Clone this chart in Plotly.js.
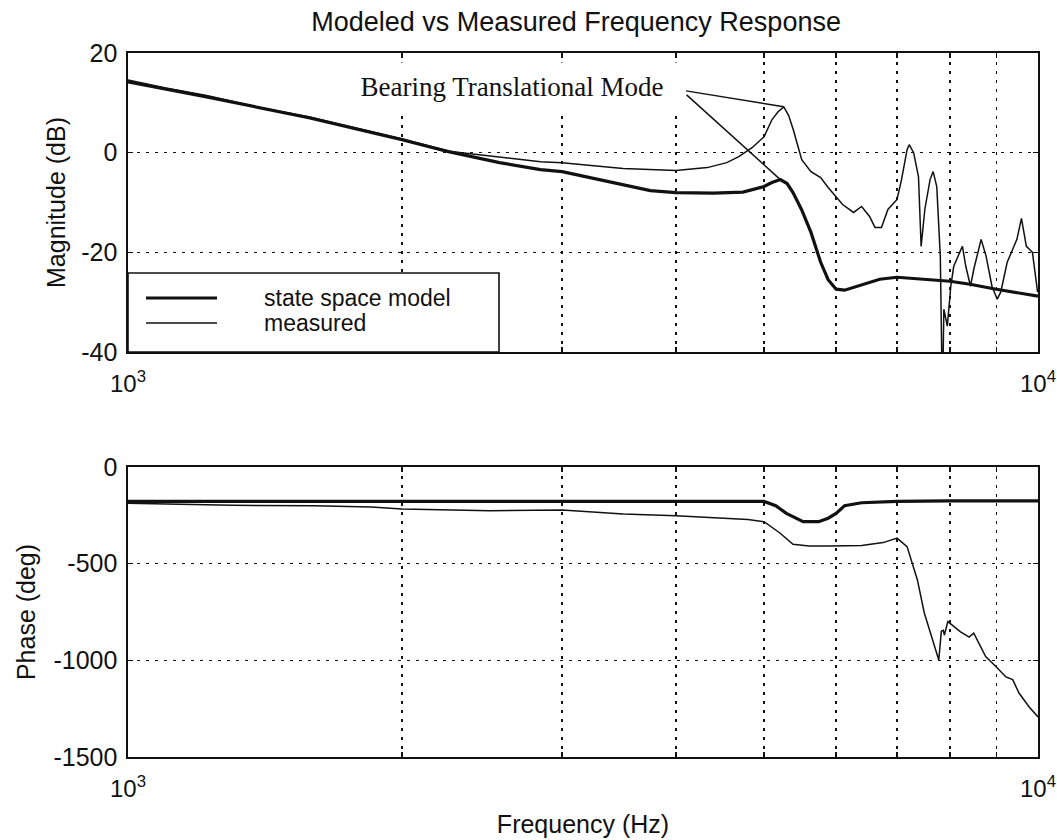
<!DOCTYPE html>
<html>
<head>
<meta charset="utf-8">
<script src="https://cdn.plot.ly/plotly-3.0.1.min.js"></script>
<style>html,body{margin:0;padding:0;background:#fff;}#chart{width:1057px;height:840px;}</style>
</head>
<body>
<div id="chart"></div>
<script>
// ---- data ----
const freqModelMag = [1000,1220,1580,2000,2250,2560,2840,3000,3750,4000,4400,4740,5000,5100,5210,5300,5380,5500,5630,5770,5880,6000,6130,6270,6700,7000,7600,8000,8420,9000,10000];
const magModel     = [14.2,11.2,7.0,2.6,0.2,-2.0,-3.4,-3.8,-7.6,-8.0,-8.1,-7.9,-6.8,-6.0,-5.4,-6.2,-8.0,-11.5,-16.0,-22.0,-25.5,-27.4,-27.6,-27.0,-25.4,-25.0,-25.4,-25.8,-26.4,-27.4,-28.8];

const freqMeasMag = [1000,1100,1220,1400,1580,1800,2000,2250,2560,2840,3000,3500,4000,4330,4550,4690,4850,5000,5100,5180,5256,5320,5384,5440,5500,5630,5770,5880,6000,6100,6270,6400,6530,6620,6730,6840,7000,7080,7180,7220,7300,7390,7440,7510,7610,7670,7740,7810,7845,7860,7880,7950,8020,8080,8230,8260,8330,8430,8500,8660,8770,8900,9020,9100,9250,9480,9590,9710,9860,9990];
const magMeas     = [14.6,13.0,11.5,9.0,7.2,4.8,2.8,0.3,-0.8,-1.8,-2.0,-3.2,-3.6,-3.0,-2.0,-0.8,1.0,3.2,6.6,8.2,9.2,7.5,4.6,1.5,-1.4,-3.8,-5.0,-7.0,-8.8,-10.4,-12.0,-10.8,-12.8,-15.0,-15.0,-11.4,-9.4,-5.4,0.6,1.6,0.0,-4.8,-18.8,-11.4,-5.4,-3.8,-6.8,-20.8,-45,-45,-31.4,-34.8,-26.8,-22.8,-19.4,-18.8,-22.8,-26.8,-23.4,-17.4,-20.8,-26.8,-29.4,-28.0,-22.0,-17.4,-13.2,-18.8,-20.0,-28.0];

const freqModelPh = [1000,2000,3000,4000,5000,5150,5290,5520,5740,5880,6000,6130,6400,7000,8000,10000];
const phaseModel  = [-178,-178,-178,-178,-178,-200,-240,-283,-283,-265,-240,-200,-185,-178,-175,-175];

const freqMeasPh = [1000,1300,1600,1850,2000,2500,3000,3500,4000,4500,4800,5000,5200,5380,5600,5900,6400,6760,7000,7180,7370,7500,7660,7780,7830,7870,7890,7960,8220,8400,8500,8760,9000,9220,9380,9530,9780,10000];
const phaseMeas  = [-187,-198,-200,-207,-217,-226,-222,-243,-252,-264,-272,-283,-340,-400,-408,-408,-406,-391,-368,-412,-584,-755,-895,-998,-850,-845,-870,-800,-853,-880,-860,-981,-1034,-1086,-1100,-1169,-1241,-1293];

const freqDecades = [1000,10000];
const freqDecadeText = ['10<sup>3</sup>','10<sup>4</sup>'];
const freqMinor = [2000,3000,4000,5000,6000,7000,8000,9000];
const magTicks = [-40,-20,0,20];
const magTickText = ['-40','-20','0','20'];
const phaseTicks = [-1500,-1000,-500,0];
const phaseTickText = ['-1500','-1000','-500','0'];

const seriesNames = ['state space model','measured'];
const titleText = 'Modeled vs Measured Frequency Response';
const annotText = 'Bearing Translational Mode';
const annotAt = [2642, 13.2];
const pointerFrom = [[4104,12.4],[4110,11.6]];

// ---- chart ----
const FONT = 'Liberation Sans, Arial, sans-serif';
const INK = '#111';
const thick = {color: INK, width: 3.2};
const thin = {color: INK, width: 1.5};

const traces = [
  {x: freqModelMag, y: magModel, xaxis:'x', yaxis:'y', mode:'lines', line: thick, name: seriesNames[0], showlegend:false},
  {x: freqMeasMag, y: magMeas, xaxis:'x', yaxis:'y', mode:'lines', line: thin, name: seriesNames[1], showlegend:false},
  {x: freqModelPh, y: phaseModel, xaxis:'x2', yaxis:'y2', mode:'lines', line: thick, name: seriesNames[0], showlegend:false},
  {x: freqMeasPh, y: phaseMeas, xaxis:'x2', yaxis:'y2', mode:'lines', line: thin, name: seriesNames[1], showlegend:false}
];

function peakIdx(f, v, lo, hi){ let b=-1; for(let i=0;i<f.length;i++){ if(f[i]>=lo&&f[i]<=hi&&(b<0||v[i]>v[b])) b=i;} return b; }
const iMeas = peakIdx(freqMeasMag, magMeas, 5000, 5600);
const iMod = peakIdx(freqModelMag, magModel, 5000, 5600);

const DASH = '3px,6px';
const gridCommon = {showgrid:true, gridcolor: INK, gridwidth: 1.6, griddash: DASH, zeroline:false,
  showline:true, linecolor: INK, linewidth: 1.6, mirror:'ticks', ticks:'inside', ticklen:5, tickwidth:1.4, tickcolor: INK};
const minorX = {tickmode:'array', tickvals: freqMinor, showgrid:true, gridcolor: INK, gridwidth:1.6, griddash: DASH, ticks:'inside', ticklen:5, tickwidth:1.4, tickcolor: INK};

const tickFont = {family: FONT, size: 25, color: INK};
const xTickFont = {family: FONT, size: 24, color: INK};
const axTitleFont = {family: FONT, size: 25, color: INK};

const layout = {
  width: 1057, height: 840,
  margin: {l:128, r:19, t:53, b:83},
  paper_bgcolor:'#fff', plot_bgcolor:'#fff',
  showlegend:false,
  title: {text: titleText, font:{family: FONT, size: 27, color: INK}, x: 0.545, xref:'container', xanchor:'center', y: 1-22/840, yref:'container', yanchor:'middle'},
  xaxis: Object.assign({}, gridCommon, {type:'log', range:[3,4], domain:[0,1], anchor:'y', tickmode:'array', tickvals: freqDecades, ticktext: freqDecadeText, tickfont: xTickFont, ticklabelstandoff: 10, ticklabeloverflow:'allow', minor: minorX}),
  yaxis: Object.assign({}, gridCommon, {range:[-40,20], domain:[(757-352)/704, 1], anchor:'x', tickmode:'array', tickvals: magTicks, ticktext: magTickText, tickfont: tickFont, ticklabelstandoff: 4,
    title:{text:'Magnitude (dB)', font: axTitleFont, standoff: 8}}),
  xaxis2: Object.assign({}, gridCommon, {type:'log', range:[3,4], domain:[0,1], anchor:'y2', tickmode:'array', tickvals: freqDecades, ticktext: freqDecadeText, tickfont: xTickFont, ticklabelstandoff: 10, ticklabeloverflow:'allow', minor: minorX,
    title:{text:'Frequency (Hz)', font: axTitleFont, standoff: 14}}),
  yaxis2: Object.assign({}, gridCommon, {range:[-1500,0], domain:[0,(757-467)/704], anchor:'x2', tickmode:'array', tickvals: phaseTicks, ticktext: phaseTickText, tickfont: tickFont, ticklabelstandoff: 4,
    title:{text:'Phase (deg)', font: axTitleFont, standoff: 10}}),
  annotations: [
    {xref:'x', yref:'y', x: Math.log10(annotAt[0]), y: annotAt[1], text: annotText, showarrow:false, xanchor:'center', yanchor:'middle',
     font:{family:'Liberation Serif, Times New Roman, serif', size: 27, color: INK}, bgcolor:'#fff', width: 322, borderpad: 9},
    {xref:'x domain', yref:'y domain', x: 0.147, y: 0.1806, text: seriesNames[0], showarrow:false, xanchor:'left', yanchor:'middle', font:{family: FONT, size: 23, color: INK}},
    {xref:'x domain', yref:'y domain', x: 0.147, y: 0.097, text: seriesNames[1], showarrow:false, xanchor:'left', yanchor:'middle', font:{family: FONT, size: 23, color: INK}}
  ],
  shapes: [
    {type:'line', xref:'x', yref:'y', x0: pointerFrom[0][0], y0: pointerFrom[0][1], x1: freqMeasMag[iMeas], y1: magMeas[iMeas], line:{color: INK, width:1.5}},
    {type:'line', xref:'x', yref:'y', x0: pointerFrom[1][0], y0: pointerFrom[1][1], x1: freqModelMag[iMod], y1: magModel[iMod], line:{color: INK, width:1.5}},
    {type:'rect', xref:'x domain', yref:'y domain', x0: 0, x1: 0.4077, y0: 0, y1: 0.264, fillcolor:'#fff', line:{color: INK, width:1.6}, layer:'above'},
    {type:'line', xref:'x domain', yref:'y domain', x0: 0.0198, x1: 0.0978, y0: 0.1806, y1: 0.1806, line:{color: INK, width:3.2}, layer:'above'},
    {type:'line', xref:'x domain', yref:'y domain', x0: 0.0198, x1: 0.0978, y0: 0.097, y1: 0.097, line:{color: INK, width:1.5}, layer:'above'}
  ]
};

Plotly.newPlot('chart', traces, layout, {staticPlot:true, displayModeBar:false});
</script>
</body>
</html>
